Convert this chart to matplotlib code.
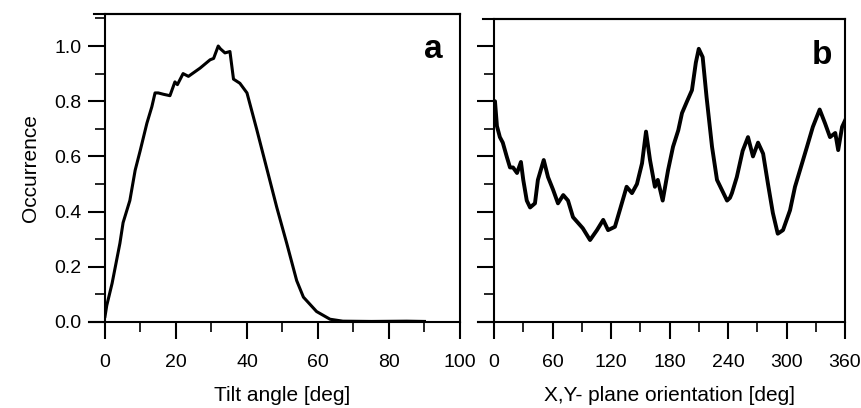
import matplotlib.pyplot as plt
from matplotlib.ticker import MultipleLocator

plt.rcParams['font.family'] = ['Liberation Sans', 'DejaVu Sans']

# panel a: tilt angle distribution
tilt_deg = [0, 0.5, 2, 4.2, 5.1, 7, 8.5, 9.9, 11.8, 13.2, 14.1, 15, 16.5, 18.3, 19.7,
            20.4, 22, 23.5, 26.8, 29.6, 30.6, 31.9, 32.5, 33.8, 35.2, 36.2, 38, 40,
            42.7, 45.5, 48.4, 51.2, 54, 55.9, 59.6, 63.4, 67, 75, 85, 90]
tilt_occ = [0.02, 0.06, 0.14, 0.285, 0.36, 0.44, 0.55, 0.62, 0.72, 0.78, 0.83, 0.83,
            0.825, 0.82, 0.87, 0.86, 0.90, 0.89, 0.92, 0.95, 0.955, 1.0, 0.99, 0.975,
            0.98, 0.88, 0.865, 0.83, 0.70, 0.56, 0.415, 0.285, 0.15, 0.09, 0.038,
            0.01, 0.003, 0.002, 0.003, 0.002]

# panel b: X,Y-plane orientation distribution
orient_deg = [0, 1, 3, 6, 9, 13, 16.4, 19.5, 23.6, 27.6, 30, 33.6, 37, 42, 45, 51,
              55.4, 60.5, 65.6, 71, 75.9, 81, 86, 91, 98.5, 105.6, 112, 117, 124,
              129, 136, 141.5, 146.6, 151.8, 155.9, 160, 165, 168, 173, 178.5, 183.6,
              189, 192.8, 198, 203, 207, 210, 214, 218, 223.6, 228.7, 233.8, 239,
              242, 244, 249, 255, 260.5, 265.6, 270.8, 276, 281, 286, 291, 296.4,
              303.6, 308.7, 313.8, 321, 327, 334, 339.5, 344.6, 350, 353, 357, 360]
orient_occ = [0.80, 0.80, 0.71, 0.67, 0.65, 0.60, 0.56, 0.56, 0.54, 0.58, 0.515, 0.44,
              0.415, 0.43, 0.515, 0.587, 0.525, 0.48, 0.43, 0.46, 0.44, 0.38, 0.36,
              0.34, 0.297, 0.333, 0.37, 0.333, 0.345, 0.405, 0.49, 0.467, 0.50, 0.575,
              0.69, 0.587, 0.49, 0.515, 0.44, 0.55, 0.635, 0.695, 0.757, 0.80, 0.84,
              0.94, 0.99, 0.96, 0.815, 0.635, 0.515, 0.478, 0.44, 0.45, 0.467, 0.525,
              0.62, 0.67, 0.60, 0.65, 0.61, 0.50, 0.395, 0.32, 0.333, 0.405, 0.49,
              0.55, 0.635, 0.707, 0.77, 0.72, 0.67, 0.685, 0.623, 0.707, 0.73]

yticks = [0.0, 0.2, 0.4, 0.6, 0.8, 1.0]

fig = plt.figure(figsize=(8.62, 4.08), dpi=100)
ax_a = fig.add_axes([0.1218, 0.2108, 0.4118, 0.7549])
ax_b = fig.add_axes([0.5731, 0.2108, 0.4072, 0.7426])


def style(ax, ytop):
    ax.set_ylim(0, ytop)
    ax.set_yticks(yticks)
    ax.yaxis.set_minor_locator(MultipleLocator(0.1))
    for s in ax.spines.values():
        s.set_linewidth(1.5)
    ax.spines['bottom'].set_visible(False)
    # axis lines poke out a little past the y axis, as in the original
    ax.axhline(0, xmin=-0.045, xmax=1, color='black', lw=1.5, clip_on=False, zorder=3)
    ax.axhline(ytop, xmin=-0.03, xmax=1, color='black', lw=1.5, clip_on=False, zorder=3)
    ax.tick_params(which='major', direction='out', length=12, width=1.5,
                   labelsize=14, top=False, right=False)
    ax.tick_params(which='minor', direction='out', length=7, width=1.2,
                   top=False, right=False)
    ax.tick_params(axis='x', pad=11)
    ax.tick_params(axis='y', pad=5)


# a
ax_a.plot(tilt_deg, tilt_occ, color='black', lw=2.2, solid_joinstyle='round')
style(ax_a, 1.116)
ax_a.set_xlim(0, 100)
ax_a.set_xticks([0, 20, 40, 60, 80, 100])
ax_a.xaxis.set_minor_locator(MultipleLocator(10))
ax_a.set_yticklabels(['0.0', '0.2', '0.4', '0.6', '0.8', '1.0'])
ax_a.set_xlabel('Tilt angle [deg]', fontsize=15, labelpad=11)
ax_a.set_ylabel('Occurrence', fontsize=15, labelpad=10)
ax_a.text(0.925, 0.885, 'a', transform=ax_a.transAxes, fontsize=24,
          fontweight='bold', ha='center', va='center')

# b
ax_b.plot(orient_deg, orient_occ, color='black', lw=2.8, solid_joinstyle='round')
style(ax_b, 1.098)
ax_b.set_xlim(0, 360)
ax_b.set_xticks([0, 60, 120, 180, 240, 300, 360])
ax_b.xaxis.set_minor_locator(MultipleLocator(30))
ax_b.set_yticklabels([])
ax_b.set_xlabel('X,Y- plane orientation [deg]', fontsize=15, labelpad=11)
ax_b.text(0.935, 0.88, 'b', transform=ax_b.transAxes, fontsize=24,
          fontweight='bold', ha='center', va='center')

fig.savefig('out.png', dpi=100)
